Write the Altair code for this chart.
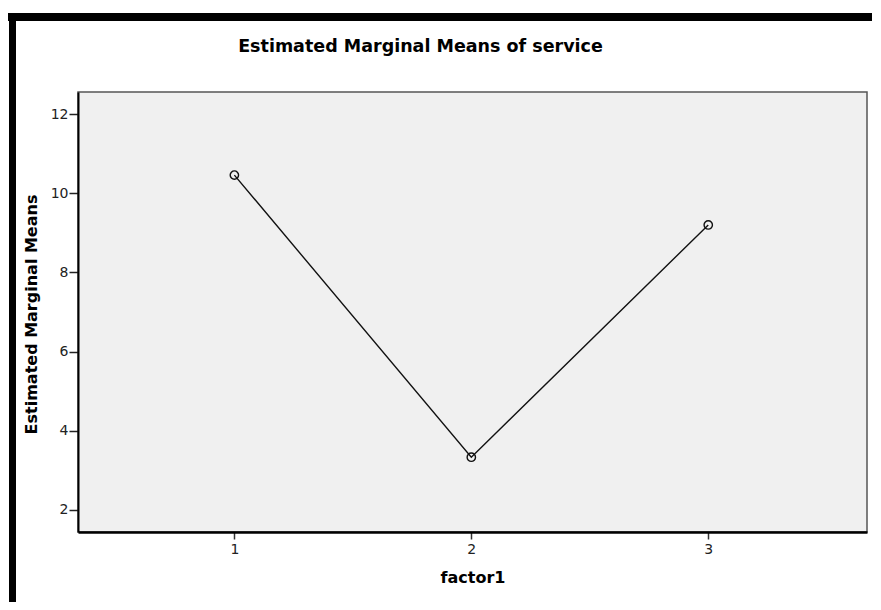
import altair as alt
import pandas as pd

factor = [1, 2, 3]
means = [10.46, 3.33, 9.20]
y_ticks = [2, 4, 6, 8, 10, 12]
x_ticks = [1, 2, 3]

df = pd.DataFrame({"factor1": factor, "mean": means})

FONT = "DejaVu Sans"

x_enc = alt.X("factor1:Q", title="factor1",
              scale=alt.Scale(domain=[0.34, 3.67], nice=False, zero=False),
              axis=alt.Axis(values=x_ticks, grid=False, format="d",
                            domainColor="#000", domainWidth=2.5,
                            tickColor="#333", tickSize=7, tickWidth=1.5,
                            labelFont=FONT, labelFontSize=14, labelColor="#222",
                            labelPadding=3,
                            titleFont=FONT, titleFontSize=16, titleFontWeight="bold",
                            titleColor="#000", titlePadding=13))
y_enc = alt.Y("mean:Q", title="Estimated Marginal Means",
              scale=alt.Scale(domain=[1.44, 12.56], nice=False, zero=False),
              axis=alt.Axis(values=y_ticks, grid=False,
                            domainColor="#000", domainWidth=2,
                            tickColor="#222", tickSize=9, tickWidth=1.5,
                            labelFont=FONT, labelFontSize=14, labelColor="#222",
                            labelPadding=1,
                            titleFont=FONT, titleFontSize=16, titleFontWeight="bold",
                            titleColor="#000", titleX=-39, titleY=222))

line = alt.Chart(df).mark_line(color="#111", strokeWidth=1.4).encode(x=x_enc, y=y_enc)
pts = alt.Chart(df).mark_point(shape="circle", filled=False, color="#111",
                               size=70, strokeWidth=1.4, opacity=1).encode(x="factor1:Q", y="mean:Q")

# black frame bars at top and left edge of the picture
top_bar = alt.Chart(df).mark_rule(color="#000", strokeWidth=8, clip=False).encode(
    x=alt.value(-70), x2=alt.value(810), y=alt.value(-75))
left_bar = alt.Chart(df).mark_rule(color="#000", strokeWidth=7, clip=False).encode(
    x=alt.value(-65.5), y=alt.value(-79), y2=alt.value(530))

chart = alt.layer(top_bar, left_bar, line, pts).properties(
    width=789, height=440,
    background="#ffffff",
    autosize=alt.AutoSizeParams(type="none"),
    padding={"left": 70, "top": 84, "right": 5, "bottom": 70},
    title=alt.TitleParams("Estimated Marginal Means of service", font=FONT,
                          fontSize=17.5, fontWeight="bold", color="#000",
                          anchor="middle", dx=-52, offset=-46),
).configure_view(fill="#f0f0f0", stroke="#555", strokeWidth=1.5)

chart.save("out.html", embed_options={"renderer": "svg", "actions": False})
